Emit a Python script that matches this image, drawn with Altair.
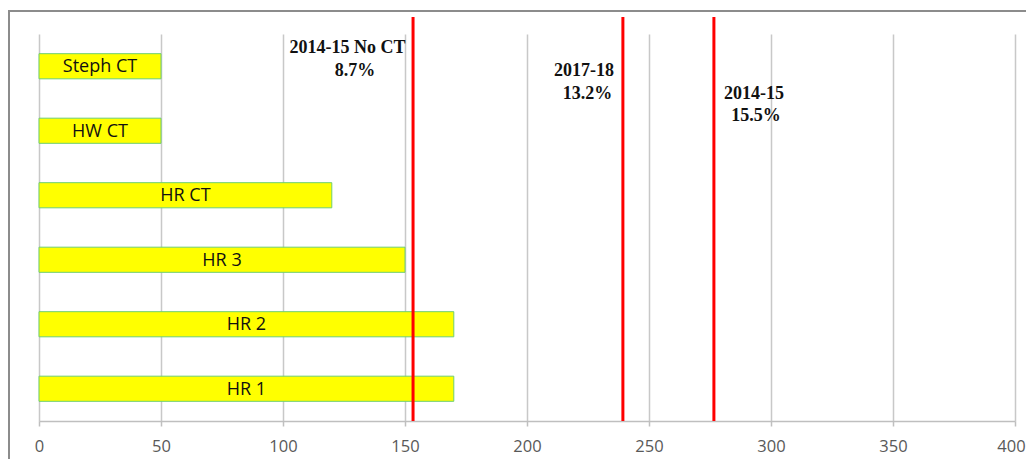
import altair as alt
import pandas as pd

# Bars
categories = ["Steph CT", "HW CT", "HR CT", "HR 3", "HR 2", "HR 1"]
values = [50, 50, 120, 150, 170, 170]

# Reference (red) lines
ref_values = [153.3, 239.3, 276.6]

# Annotation text lines
ann_text = ["2014-15 No CT", "8.7%", "2017-18", "13.2%", "2014-15", "15.5%"]
ann_x = [126.4, 129.5, 223.4, 224.8, 293.0, 293.9]
ann_y = [14, 37, 37, 60, 60, 82]

x_ticks = [0, 50, 100, 150, 200, 250, 300, 350, 400]

W, H = 976, 387

bars_df = pd.DataFrame({"cat": categories, "val": values})
refs_df = pd.DataFrame({"ref": ref_values})
ann_df = pd.DataFrame({"text": ann_text, "ax": ann_x, "ay": ann_y})

x_scale = alt.Scale(domain=[0, 400], nice=False, zero=True)
y_scale = alt.Scale(domain=categories, paddingInner=0.61, paddingOuter=0.305)

x_axis = alt.Axis(
    values=x_ticks, grid=True, gridColor="#c8c8c8", gridWidth=1.5,
    domainColor="#bfbfbf", domainWidth=1.5, tickColor="#bfbfbf", tickWidth=1.5,
    tickSize=5, labelColor="#595959", labelFontSize=16.5, labelFont="Open Sans",
    labelPadding=12, title=None, labelFlush=False,
    labelOffset={"condition": {"test": "datum.value === 400", "value": -4}, "value": 0},
)

base = alt.Chart(bars_df)

bars = base.mark_bar(color="#ffff00", stroke="#6fcf6f", strokeWidth=1).encode(
    x=alt.X("val:Q", scale=x_scale, axis=x_axis),
    y=alt.Y("cat:N", scale=y_scale, axis=None, sort=categories),
)

bar_labels = base.transform_calculate(mid="datum.val / 2").mark_text(
    font="Open Sans", fontSize=18, color="#111111", align="center", baseline="middle", dy=1
).encode(
    x=alt.X("mid:Q", scale=x_scale),
    y=alt.Y("cat:N", scale=y_scale, sort=categories),
    text="cat:N",
)

red_lines = alt.Chart(refs_df).mark_rule(color="#ff0000", strokeWidth=3, clip=False).encode(
    x=alt.X("ref:Q", scale=x_scale),
    y=alt.value(-17),
    y2=alt.value(H),
)

ann = alt.Chart(ann_df).mark_text(
    font="Liberation Serif", fontWeight="bold", fontSize=18, color="#111111",
    align="center", baseline="middle",
).encode(
    x=alt.X("ax:Q", scale=x_scale),
    y=alt.Y("ay:Q", scale=None),
    text="text:N",
)

frame_df = pd.DataFrame({"k": [0]})
frame_top = alt.Chart(frame_df).mark_rule(color="#8c8c8c", strokeWidth=2, clip=False).encode(
    x=alt.value(-31), x2=alt.value(W + 11), y=alt.value(-23)
)
frame_left = alt.Chart(frame_df).mark_rule(color="#8c8c8c", strokeWidth=2, clip=False).encode(
    x=alt.value(-30), y=alt.value(-23), y2=alt.value(H + 38)
)

chart = alt.layer(bars, bar_labels, red_lines, ann, frame_top, frame_left).properties(
    width=W, height=H,
    padding={"left": 31, "top": 26, "right": 11, "bottom": 38},
    autosize=alt.AutoSizeParams(type="none"),
    background="white",
).configure_view(strokeWidth=0)

chart.save("out.html", embed_options={"renderer": "svg", "actions": False})
